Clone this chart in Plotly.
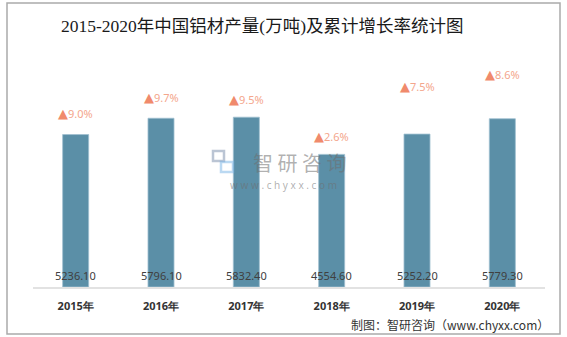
import plotly.graph_objects as go

# ---- data ----
years = ["2015年", "2016年", "2017年", "2018年", "2019年", "2020年"]
output = [5236.10, 5796.10, 5832.40, 4554.60, 5252.20, 5779.30]
growth = [9.0, 9.7, 9.5, 2.6, 7.5, 8.6]

# ---- style ----
label_shift = [22, 21, 18, 18, 48, 45]   # px above bar top for growth labels
bar_color = "#5B8FA7"
tri_color = "#F08A6C"
pct_color = "#F4A68C"

fig = go.Figure()
fig.add_trace(go.Bar(
    x=years, y=output,
    marker=dict(color=bar_color, line=dict(color="#9FC0D0", width=0.8)),
    width=0.305,
    hoverinfo="skip",
))

annotations = []
for yr, v, g, s in zip(years, output, growth, label_shift):
    annotations.append(dict(
        x=yr, y=v, xref="x", yref="y",
        text=f"<span style='color:{tri_color};font-size:13px'>▲</span>{g:.1f}%",
        showarrow=False, yanchor="middle", yshift=s,
        font=dict(family="Noto Sans, DejaVu Sans", size=11, color=pct_color),
    ))
    annotations.append(dict(
        x=yr, y=0, xref="x", yref="y",
        text=f"{v:.2f}",
        showarrow=False, yanchor="middle", yshift=12,
        font=dict(family="Noto Sans, DejaVu Sans", size=11, color="#404040"),
    ))

# title
annotations.append(dict(
    x=(262 - 33) / 512, y=(287 - 26) / 237, xref="paper", yref="paper",
    text="2015-2020年中国铝材产量(万吨)及累计增长率统计图",
    showarrow=False, xanchor="center", yanchor="middle",
    font=dict(family="Liberation Serif, Noto Sans CJK SC", size=17.5, color="#1A1A1A"),
))
# source
annotations.append(dict(
    x=(551 - 33) / 512, y=(287 - 324) / 237, xref="paper", yref="paper",
    text="制图：智研咨询（www.chyxx.com）",
    showarrow=False, xanchor="right", yanchor="middle",
    font=dict(family="Noto Sans CJK SC", size=12, color="#333333"),
))
# watermark
annotations.append(dict(
    x=(299 - 33) / 512, y=(287 - 162) / 237, xref="paper", yref="paper",
    text="智 研 咨 询", showarrow=False, xanchor="center", yanchor="middle",
    font=dict(family="Noto Sans CJK SC", size=20, color="rgba(110,110,110,0.55)"),
))
annotations.append(dict(
    x=(283 - 33) / 512, y=(287 - 185) / 237, xref="paper", yref="paper",
    text="w w w . c h y x x . c o m", showarrow=False, xanchor="center", yanchor="middle",
    font=dict(family="Noto Sans", size=10, color="rgba(110,110,110,0.55)"),
))

def px_x(p):
    return (p - 33) / 512

def px_y(p):
    return (287 - p) / 237

shapes = [
    # outer border
    dict(type="rect", xref="paper", yref="paper",
         x0=px_x(7), x1=px_x(560), y0=px_y(334), y1=px_y(3),
         line=dict(color="#AAAAAA", width=1.5), fillcolor="rgba(0,0,0,0)", layer="below"),
    # watermark logo (approximate)
    dict(type="rect", xref="paper", yref="paper",
         x0=px_x(213), x1=px_x(224), y0=px_y(161), y1=px_y(151),
         line=dict(color="rgba(120,140,170,0.5)", width=2.5), fillcolor="rgba(0,0,0,0)"),
    dict(type="rect", xref="paper", yref="paper",
         x0=px_x(221), x1=px_x(233), y0=px_y(172), y1=px_y(162),
         line=dict(color="rgba(120,180,230,0.5)", width=2.5), fillcolor="rgba(0,0,0,0)"),
]

fig.update_layout(
    width=567, height=337,
    margin=dict(l=33, r=22, t=50, b=50),
    paper_bgcolor="white", plot_bgcolor="white",
    showlegend=False,
    annotations=annotations,
    shapes=shapes,
    xaxis=dict(
        showline=True, linecolor="#E2E2E2", linewidth=2,
        showgrid=False, zeroline=False,
        ticks="outside", ticklen=8, tickcolor="rgba(0,0,0,0)",
        tickfont=dict(family="Noto Sans, DejaVu Sans", size=11, color="#333333", weight="bold"),
    ),
    yaxis=dict(
        range=[0, 8140], visible=False, showgrid=False, zeroline=False,
    ),
)

fig.write_html("out.html")
